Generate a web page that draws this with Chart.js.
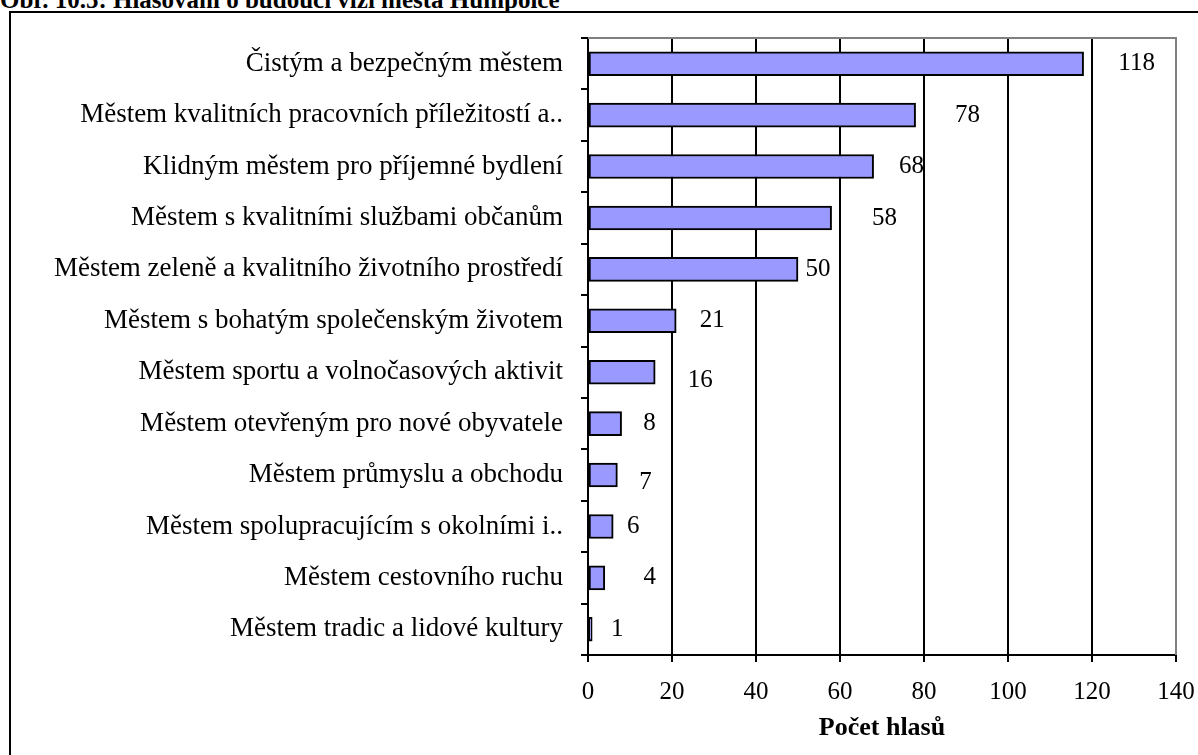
<!DOCTYPE html>
<html lang="cs">
<head>
<meta charset="utf-8">
<title>Hlasování o budoucí vizi města Humpolce</title>
<script src="https://cdn.jsdelivr.net/npm/chart.js@4.4.1/dist/chart.umd.min.js"></script>
<style>
    html, body { margin: 0; padding: 0; background: #fff; overflow: hidden; }
    body { width: 1198px; height: 755px; position: relative; }
    #nadpis {
        position: absolute; left: 0; top: -13px; white-space: nowrap;
        font: bold 25px/25px "Liberation Serif", "Times New Roman", serif; color: #000;
    }
    #ramec {
        position: absolute; left: 9px; top: 11px; width: 1300px; height: 900px;
        border: 2px solid #000;
    }
    #graf { position: absolute; left: 0; top: 0; }
</style>
</head>
<body>
<div id="nadpis">Obr. 10.5: Hlasování o budoucí vizi města Humpolce</div>
<div id="ramec"></div>
<canvas id="graf" width="1198" height="755"></canvas>
<script>
// kategorie (odpovědi) a počty hlasů
const visions = [
    'Čistým a bezpečným městem',
    'Městem kvalitních pracovních příležitostí a..',
    'Klidným městem pro příjemné bydlení',
    'Městem s kvalitními službami občanům',
    'Městem zeleně a kvalitního životního prostředí',
    'Městem s bohatým společenským životem',
    'Městem sportu a volnočasových aktivit',
    'Městem otevřeným pro nové obyvatele',
    'Městem průmyslu a obchodu',
    'Městem spolupracujícím s okolními i..',
    'Městem cestovního ruchu',
    'Městem tradic a lidové kultury'
];
const votes = [118, 78, 68, 58, 50, 21, 16, 8, 7, 6, 4, 1];
const xTicks = [0, 20, 40, 60, 80, 100, 120, 140];

// posun popisků hodnot od konce sloupce (px) - jako v originále
const labelNudge = [
    [53, 0], [52, 0], [38, 0], [53, 0], [20, 0], [36, 0],
    [45, 8], [28, 0], [28, 7], [20, 0], [45, 0], [25, 0]
];

const serif = '"Liberation Serif", "Times New Roman", serif';
Chart.defaults.font.family = serif;
Chart.defaults.color = '#000';

// popisky hodnot u sloupců
const valueLabels = {
    id: 'valueLabels',
    afterDatasetsDraw(chart) {
        const ctx = chart.ctx;
        const meta = chart.getDatasetMeta(0);
        ctx.save();
        ctx.font = '25px ' + serif;
        ctx.fillStyle = '#000';
        ctx.textAlign = 'center';
        ctx.textBaseline = 'middle';
        meta.data.forEach((bar, i) => {
            const [dx, dy] = labelNudge[i];
            ctx.fillText(String(votes[i]), bar.x + dx, bar.y + dy);
        });
        ctx.restore();
    }
};

// šedý okraj oblasti grafu (nahoře a vpravo)
const plotBorder = {
    id: 'plotBorder',
    beforeDatasetsDraw(chart) {
        const { ctx, chartArea: a } = chart;
        ctx.save();
        ctx.strokeStyle = '#808080';
        ctx.lineWidth = 2;
        ctx.beginPath();
        ctx.moveTo(a.left, a.top);
        ctx.lineTo(a.right, a.top);
        ctx.lineTo(a.right, a.bottom);
        ctx.stroke();
        ctx.restore();
    }
};

new Chart(document.getElementById('graf'), {
    type: 'bar',
    data: {
        labels: visions,
        datasets: [{
            data: votes,
            backgroundColor: '#9999FF',
            borderColor: '#000',
            borderWidth: 2,
            borderSkipped: false,
            barThickness: 24
        }]
    },
    options: {
        indexAxis: 'y',
        responsive: false,
        animation: false,
        layout: { padding: { top: 38, right: 22, left: 0, bottom: 0 } },
        plugins: {
            legend: { display: false },
            tooltip: { enabled: false }
        },
        scales: {
            x: {
                min: xTicks[0],
                max: xTicks[xTicks.length - 1],
                afterBuildTicks: scale => {
                    scale.ticks = xTicks.map(v => ({ value: v }));
                },
                afterFit: scale => {
                    scale.height = 100;
                    scale.paddingRight = 0;
                    scale.paddingLeft = 0;
                },
                grid: {
                    color: c => (c.tick && c.tick.value === 140) ? '#808080' : '#000',
                    tickColor: '#000',
                    lineWidth: 2,
                    tickLength: 7
                },
                border: { color: '#000', width: 2 },
                ticks: {
                    font: { size: 25 },
                    padding: 15,
                    maxRotation: 0
                },
                title: {
                    display: true,
                    text: 'Počet hlasů',
                    font: { size: 26, weight: 'bold' },
                    padding: { top: 0, bottom: 11 }
                }
            },
            y: {
                afterFit: scale => { scale.width = 588; },
                grid: {
                    offset: true,
                    drawOnChartArea: false,
                    tickColor: '#000',
                    lineWidth: 2,
                    tickLength: 7
                },
                border: { color: '#000', width: 2 },
                ticks: {
                    font: { size: 27 },
                    padding: 18,
                    autoSkip: false
                }
            }
        }
    },
    plugins: [plotBorder, valueLabels]
});
</script>
</body>
</html>
